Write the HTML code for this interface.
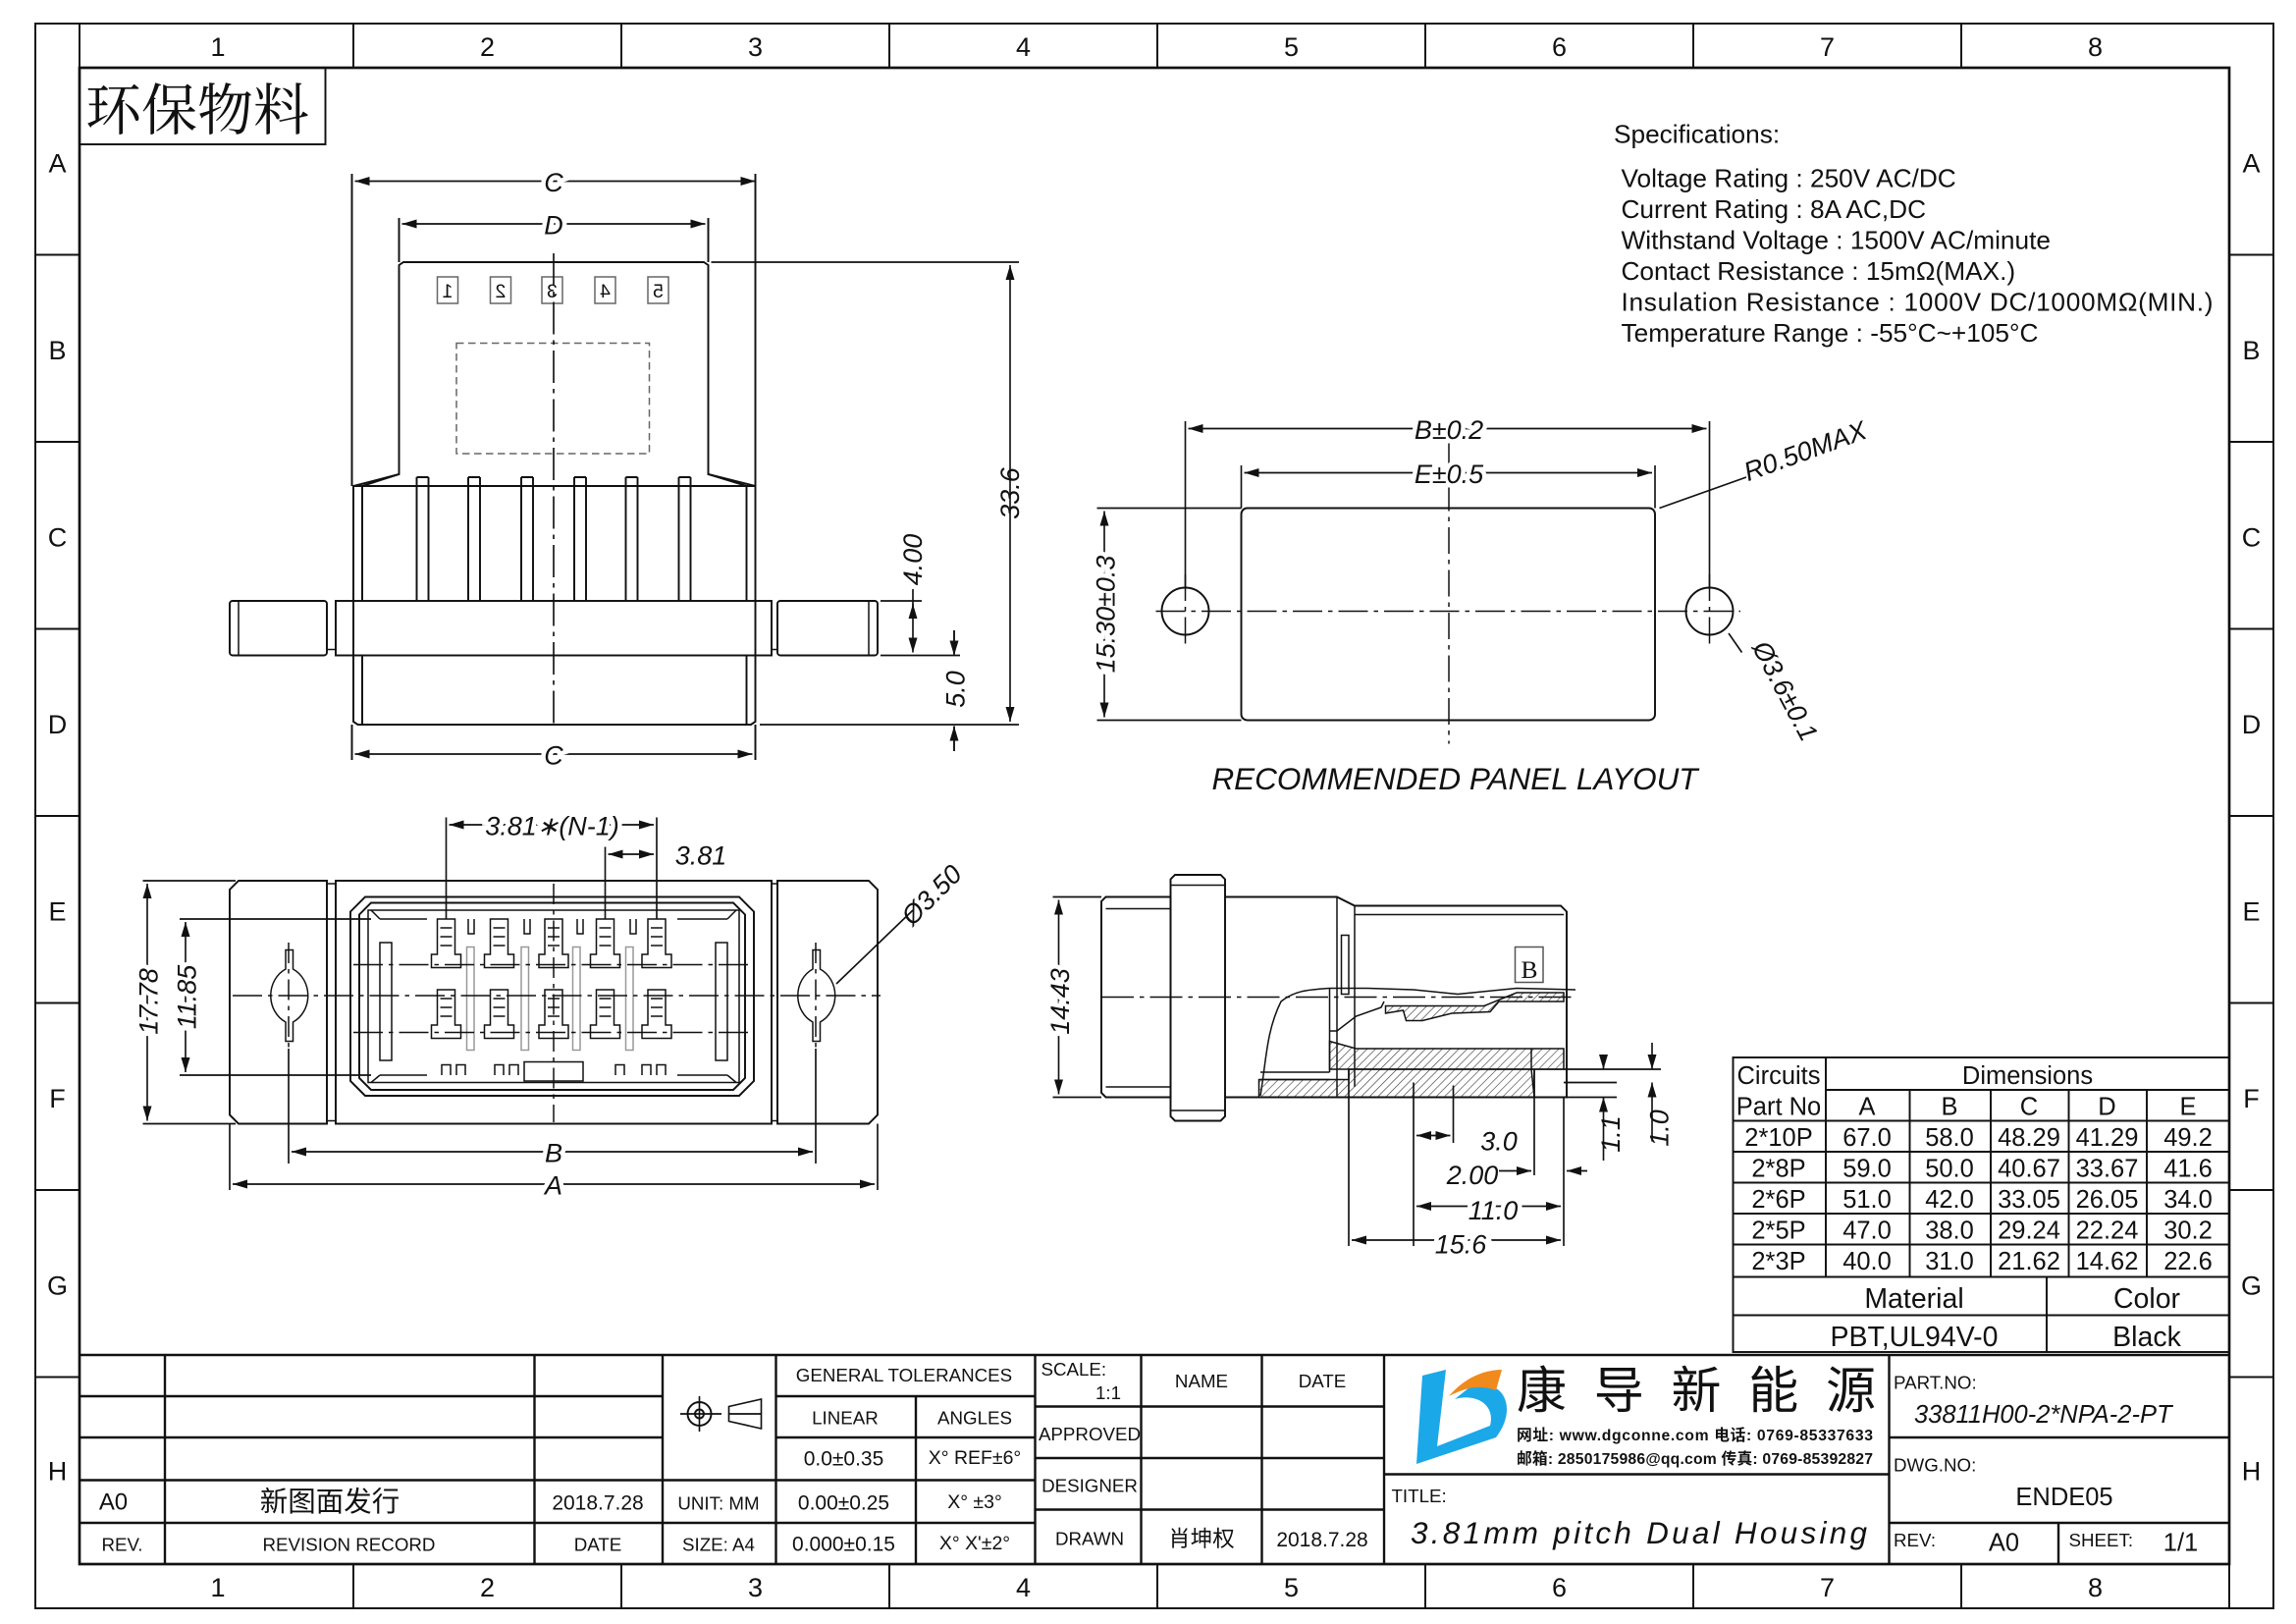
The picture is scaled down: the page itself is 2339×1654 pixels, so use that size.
<!DOCTYPE html>
<html><head><meta charset="utf-8"><style>
html,body{margin:0;padding:0;background:#fff}
svg{display:block}
text{font-family:"Liberation Sans","Noto Sans CJK SC",sans-serif;fill:#111}
.s{font-family:"Liberation Serif","Noto Serif CJK SC",serif}
.d{font-style:italic;font-size:18px}
</style></head><body>
<svg width="2339" height="1654" viewBox="0 0 1559.33 1102.67" preserveAspectRatio="none" xmlns="http://www.w3.org/2000/svg">
<defs>
<marker id="a" viewBox="0 0 10 6" refX="10" refY="3" markerWidth="10" markerHeight="6" markerUnits="userSpaceOnUse" orient="auto-start-reverse"><path d="M0,0L10,3L0,6z" fill="#111"/></marker>
<pattern id="h" width="4" height="4" patternUnits="userSpaceOnUse" patternTransform="rotate(45)"><line x1="0" y1="0" x2="0" y2="4" stroke="#333" stroke-width="0.8"/></pattern>
</defs>
<g fill="none" stroke="#111" stroke-width="1.3">
<rect x="24" y="16" width="1520" height="1076"/>
<rect x="54" y="46" width="1460" height="1016" stroke-width="1.8"/>
<line x1="54" y1="16" x2="54" y2="46"/>
<line x1="1514" y1="1062" x2="1514" y2="1092"/>
<path d="M240 16V46M422 16V46M604 16V46M786 16V46M968 16V46M1150 16V46M1332 16V46"/>
<path d="M240 1062V1092M422 1062V1092M604 1062V1092M786 1062V1092M968 1062V1092M1150 1062V1092M1332 1062V1092"/>
<path d="M24 173H54M24 300H54M24 427H54M24 554H54M24 681H54M24 808H54M24 935H54"/>
<path d="M1514 173H1544M1514 300H1544M1514 427H1544M1514 554H1544M1514 681H1544M1514 808H1544M1514 935H1544"/>
<rect x="54" y="46" width="167" height="52"/>

<path d="M271 180L274 178H478L481 180V322L513 330V490L510 492H243L240 490V330L271 322Z"/>
<path d="M271 322L246 330V408M481 322L507 330V408M246 445V492M507 445V492M240 330H513"/>
<path d="M283 324V408M291 324V408M318 324V408M326 324V408M354 324V408M362 324V408M390 324V408M398 324V408M425 324V408M433 324V408M461 324V408M469 324V408M283 324H291M318 324H326M354 324H362M390 324H398M425 324H433M461 324H469"/>
<rect x="228" y="408" width="296" height="37"/>
<rect x="156" y="408" width="66" height="37" rx="2"/>
<rect x="528" y="408" width="68" height="37" rx="2"/>
<path d="M162 408V445M590 408V445M222 412V441H228M524 412V441H528" stroke-width="1"/>
<g stroke="#666" stroke-width="1"><rect x="297" y="188" width="14" height="18"/><rect x="333" y="188" width="14" height="18"/><rect x="368" y="188" width="14" height="18"/><rect x="404" y="188" width="14" height="18"/><rect x="440" y="188" width="14" height="18"/>
<rect x="310" y="233" width="131" height="75" stroke-dasharray="5 3"/></g>
<line x1="376" y1="172" x2="376" y2="495" stroke-dasharray="22 4 3 4" stroke-width="1.1"/>
<path d="M239 118V330M513 118V330M271 148V178M481 148V178M239 492V516M513 492V516"/>
<path d="M241 123H513" marker-start="url(#a)" marker-end="url(#a)" stroke-width="1.1"/>
<path d="M273 152H479" marker-start="url(#a)" marker-end="url(#a)" stroke-width="1.1"/>
<path d="M241 512H511" marker-start="url(#a)" marker-end="url(#a)" stroke-width="1.1"/>
<path d="M483 178H692M516 492H692M598 408H626M598 445H652" stroke-width="1.1"/>
<path d="M686 180V490" marker-start="url(#a)" marker-end="url(#a)" stroke-width="1.1"/>
<path d="M620 410V443" marker-start="url(#a)" marker-end="url(#a)" stroke-width="1.1"/>
<path d="M620 400V420" stroke-width="1.1"/>
<path d="M648 428V444M648 493V510" stroke-width="1.1"/>
<path d="M648 428V445" marker-end="url(#a)" stroke-width="1.1"/>
<path d="M648 510V493" marker-end="url(#a)" stroke-width="1.1"/>

<rect x="843" y="345" width="281" height="144" rx="4"/>
<circle cx="805" cy="415" r="16"/><circle cx="1161" cy="415" r="16"/>
<path d="M785 415H1182" stroke-dasharray="20 4 3 4" stroke-width="1"/>
<path d="M984 300V505M805 390V440M1161 390V440" stroke-dasharray="18 4 3 4" stroke-width="1"/>
<path d="M805 286V399M1161 286V399M843 316V345M1124 316V345M745 345H843M745 489H843" stroke-width="1.1"/>
<path d="M807 291H1159" marker-start="url(#a)" marker-end="url(#a)" stroke-width="1.1"/>
<path d="M845 321H1122" marker-start="url(#a)" marker-end="url(#a)" stroke-width="1.1"/>
<path d="M750 347V487" marker-start="url(#a)" marker-end="url(#a)" stroke-width="1.1"/>
<path d="M1127 345L1186 324M1174 430L1183 443" stroke-width="1.1"/>

<path d="M162 598H222V763H162L156 757V604Z"/>
<path d="M528 598H590L596 604V757L590 763H528Z"/>
<rect x="228" y="598" width="296" height="165"/>
<path d="M222 600H228M222 761H228M524 600H528M524 761H528" stroke-width="1"/>
<path d="M248 609H502L512 619V734L502 744H248L238 734V619Z"/>
<path d="M252 613H498L506 621V732L498 740H252L244 732V621Z"/>
<rect x="250" y="618" width="252" height="117" stroke-width="1"/>
<path d="M258 624H290M460 624H494M258 730H290M460 730H494M252 618L258 624M500 618L494 624M252 735L258 730M500 735L494 730" stroke-width="1"/>
<path d="M258 640V720H266V640ZM486 640V720H494V640Z" stroke-width="1"/>
<g stroke-width="1">
<path d="M297 624H309V648H313V657H293V648H297ZM333 624H345V648H349V657H329V648H333ZM370 624H382V648H386V657H366V648H370ZM405 624H417V648H421V657H401V648H405ZM440 624H452V648H456V657H436V648H440Z"/>
<path d="M297 672H309V696H313V705H293V696H297ZM333 672H345V696H349V705H329V696H333ZM370 672H382V696H386V705H366V696H370ZM405 672H417V696H421V705H401V696H405ZM440 672H452V696H456V705H436V696H440Z"/>
<path d="M299 630H307M299 636H307M299 642H307M335 630H343M335 636H343M335 642H343M372 630H380M372 636H380M372 642H380M407 630H415M407 636H415M407 642H415M442 630H450M442 636H450M442 642H450M299 678H307M299 684H307M299 690H307M335 678H343M335 684H343M335 690H343M372 678H380M372 684H380M372 690H380M407 678H415M407 684H415M407 690H415M442 678H450M442 684H450M442 690H450"/>
<g stroke="#999"><rect x="317" y="643" width="5" height="70"/><rect x="354" y="643" width="5" height="70"/><rect x="389" y="643" width="5" height="70"/><rect x="425" y="643" width="5" height="70"/></g>
<path d="M318 624V634H322V624M356 624V634H360V624M392 624V634H396V624M428 624V634H432V624"/>
<path d="M300 730V723H306V730M310 730V723H316V730M336 730V723H342V730M346 730V723H352V730M418 730V723H424V730M436 730V723H442V730M446 730V723H452V730M356 730V721H396V734H356Z"/>
<path d="M194 645L199 645L199 658A18 20 0 0 1 199 694L199 707L194 707L194 694A18 20 0 0 1 194 658Z"/>
<path d="M552 645L557 645L557 658A18 20 0 0 1 557 694L557 707L552 707L552 694A18 20 0 0 1 552 658Z"/>
</g>
<path d="M158 676H598M240 655H512M240 701H512" stroke-dasharray="20 4 3 4" stroke-width="1"/>
<path d="M196 640V712M554 640V712M376 600V762" stroke-dasharray="14 4 3 4" stroke-width="1"/>
<path d="M97 598H160M97 763H160M122 624H252M122 730H252M196 712V790M554 712V790M156 763V808M596 763V808M303 555V624M446 555V624M411 575V624" stroke-width="1.1"/>
<path d="M100 600V761" marker-start="url(#a)" marker-end="url(#a)" stroke-width="1.1"/>
<path d="M126 626V728" marker-start="url(#a)" marker-end="url(#a)" stroke-width="1.1"/>
<path d="M198 782H552" marker-start="url(#a)" marker-end="url(#a)" stroke-width="1.1"/>
<path d="M158 804H594" marker-start="url(#a)" marker-end="url(#a)" stroke-width="1.1"/>
<path d="M305 560H444" marker-start="url(#a)" marker-end="url(#a)" stroke-width="1.1"/>
<path d="M413 580H444" marker-start="url(#a)" marker-end="url(#a)" stroke-width="1.1"/>
<path d="M568 668L620 618" stroke-width="1.1"/>

<path d="M751 609H795V745H751L748 742V612Z"/>
<path d="M751 617H795M751 738H795" stroke-width="1"/>
<path d="M798 594H829L832 597V758L829 761H798L795 758V597Z"/>
<path d="M795 601H832M795 754H832" stroke-width="1"/>
<path d="M832 609H908L920 615H1060L1064 619V745H832"/>
<path d="M908 609V745M920 615V738M920 621H1062" stroke-width="1"/>
<rect x="911" y="635" width="5" height="40" stroke-width="1"/>
<rect x="1029" y="643" width="19" height="24" stroke="#555" stroke-width="1"/>
<path d="M748 677H1071" stroke-dasharray="22 4 3 4" stroke-width="1"/>
<path d="M856 744C860 720 860 700 870 680C880 672 890 672 903 671H928L960 672L990 675L1030 671L1070 672" stroke-width="1"/>
<g stroke-width="1">
<path d="M941 683H1008L1030 674H1062V680H1018L1012 687L986 688L966 693L955 693L953 686L941 688Z" fill="url(#h)"/>
<path d="M903 707L921 712H1062V722L1062 726H903Z" fill="url(#h)"/>
<path d="M855 733H916V726H1040L1042 745H855Z" fill="url(#h)"/>
<path d="M903 671V728M903 700H908L921 690L938 684L940 680M856 728H903M856 733H903M1040 712V726H1062M1042 726V745"/>
</g>
<path d="M715 609H748M715 745H748M916 726V846M960 735V846M987 737V776M1042 726V798M1062 745V846M1062 726H1128M1062 735H1098M1062 745H1098" stroke-width="1.1"/>
<path d="M719 611V743" marker-start="url(#a)" marker-end="url(#a)" stroke-width="1.1"/>
<path d="M962 771H985" marker-start="url(#a)" marker-end="url(#a)" stroke-width="1.1"/>
<path d="M1018 795H1040" marker-end="url(#a)" stroke-width="1.1"/>
<path d="M1078 795H1064" marker-end="url(#a)" stroke-width="1.1"/>
<path d="M962 819H1060" marker-start="url(#a)" marker-end="url(#a)" stroke-width="1.1"/>
<path d="M918 842H1060" marker-start="url(#a)" marker-end="url(#a)" stroke-width="1.1"/>
<path d="M1089 716V726" marker-end="url(#a)" stroke-width="1.1"/>
<path d="M1089 788V745" marker-end="url(#a)" stroke-width="1.1"/>
<path d="M1122 708V726" marker-end="url(#a)" stroke-width="1.1"/>
<path d="M1122 775V735" marker-end="url(#a)" stroke-width="1.1"/>

<rect x="1177" y="718" width="337" height="200"/>
<path d="M1240 718V867M1240 740H1514M1177 761H1514M1177 782H1514M1177 803H1514M1177 824H1514M1177 845H1514M1177 867H1514M1177 893H1514M1297 740V867M1352 740V867M1405 740V867M1458 740V867M1390 867V918"/>

<path d="M54 920H1514M54 948H450M54 976H450M54 1005H450M54 1034H450M112 920V1062M363 920V1062M450 920V1062M527 920V1062M703 920V1062M775 920V1062M857 920V1062M940 920V1062M1283 920V1062" stroke-width="1.6"/>
<path d="M450 1005H703M450 1034H703M527 948H703M527 976H703M622 948V1062M703 955H940M703 990H940M703 1025H940M940 1001H1283M1283 976H1514M1283 1034H1514M1398 1034V1062" stroke-width="1.6"/>
<circle cx="475" cy="960" r="8"/><circle cx="475" cy="960" r="3"/><path d="M462 960H490M475 948V972M495 955L517 950V970L495 965ZM495 960H517" stroke-width="1.1"/>
</g>

<g font-size="13" text-anchor="middle">
<text transform="translate(304 202) scale(-1 1)" fill="#555">1</text>
<text transform="translate(340 202) scale(-1 1)" fill="#555">2</text>
<text transform="translate(375 202) scale(-1 1)" fill="#555">3</text>
<text transform="translate(411 202) scale(-1 1)" fill="#555">4</text>
<text transform="translate(447 202) scale(-1 1)" fill="#555">5</text>
</g>

<g text-anchor="middle" font-size="18">
<text x="148" y="38">1</text><text x="331" y="38">2</text><text x="513" y="38">3</text><text x="695" y="38">4</text><text x="877" y="38">5</text><text x="1059" y="38">6</text><text x="1241" y="38">7</text><text x="1423" y="38">8</text>
<text x="148" y="1084">1</text><text x="331" y="1084">2</text><text x="513" y="1084">3</text><text x="695" y="1084">4</text><text x="877" y="1084">5</text><text x="1059" y="1084">6</text><text x="1241" y="1084">7</text><text x="1423" y="1084">8</text>
<text x="39" y="117">A</text><text x="39" y="244">B</text><text x="39" y="371">C</text><text x="39" y="498">D</text><text x="39" y="625">E</text><text x="39" y="752">F</text><text x="39" y="879">G</text><text x="39" y="1005">H</text>
<text x="1529" y="117">A</text><text x="1529" y="244">B</text><text x="1529" y="371">C</text><text x="1529" y="498">D</text><text x="1529" y="625">E</text><text x="1529" y="752">F</text><text x="1529" y="879">G</text><text x="1529" y="1005">H</text>
</g>
<text x="58" y="88" font-size="38" class="s" style="font-family:'Noto Serif CJK SC','Noto Sans CJK SC',serif">环保物料</text>

<g font-size="17.5">
<text x="1096" y="97">Specifications:</text>
<text x="1101" y="127">Voltage Rating : 250V AC/DC</text>
<text x="1101" y="148">Current Rating : 8A AC,DC</text>
<text x="1101" y="169">Withstand Voltage : 1500V AC/minute</text>
<text x="1101" y="190">Contact Resistance : 15mΩ(MAX.)</text>
<text x="1101" y="211" textLength="402">Insulation Resistance : 1000V DC/1000MΩ(MIN.)</text>
<text x="1101" y="232">Temperature Range : -55°C~+105°C</text>
</g>

<g class="d" text-anchor="middle">
<text x="376" y="130" style="paint-order:stroke" stroke="#fff" stroke-width="6">C</text>
<text x="376" y="159" style="paint-order:stroke" stroke="#fff" stroke-width="6">D</text>
<text x="376" y="519" style="paint-order:stroke" stroke="#fff" stroke-width="6">C</text>
<text transform="translate(692 335) rotate(-90)">33.6</text>
<text transform="translate(626 380) rotate(-90)">4.00</text>
<text transform="translate(655 468) rotate(-90)">5.0</text>
<text x="984" y="298" style="paint-order:stroke" stroke="#fff" stroke-width="6">B±0.2</text>
<text x="984" y="328" style="paint-order:stroke" stroke="#fff" stroke-width="6">E±0.5</text>
<text transform="translate(757 417) rotate(-90)" style="paint-order:stroke" stroke="#fff" stroke-width="6">15.30±0.3</text>
<text transform="translate(1228 312) rotate(-20)">R0.50MAX</text>
<text transform="translate(1207 472) rotate(62)">Ø3.6±0.1</text>
<text x="988" y="536" font-size="21">RECOMMENDED PANEL LAYOUT</text>
<text x="375" y="567" style="paint-order:stroke" stroke="#fff" stroke-width="6">3.81∗(N-1)</text>
<text x="476" y="587">3.81</text>
<text transform="translate(637 612) rotate(-45)">Ø3.50</text>
<text transform="translate(107 680) rotate(-90)" style="paint-order:stroke" stroke="#fff" stroke-width="6">17.78</text>
<text transform="translate(133 677) rotate(-90)" style="paint-order:stroke" stroke="#fff" stroke-width="6">11.85</text>
<text x="376" y="789" style="paint-order:stroke" stroke="#fff" stroke-width="6">B</text>
<text x="376" y="811" style="paint-order:stroke" stroke="#fff" stroke-width="6">A</text>
<text transform="translate(726 680) rotate(-90)" style="paint-order:stroke" stroke="#fff" stroke-width="6">14.43</text>
<text x="1018" y="781">3.0</text>
<text x="1000" y="804">2.00</text>
<text x="1014" y="828" style="paint-order:stroke" stroke="#fff" stroke-width="6">11.0</text>
<text x="992" y="851" style="paint-order:stroke" stroke="#fff" stroke-width="6">15.6</text>
<text transform="translate(1100 770) rotate(-90)">1.1</text>
<text transform="translate(1133 766) rotate(-90)">1.0</text>
</g>
<text x="1033" y="664" font-size="17" fill="#555" class="s">B</text>

<g text-anchor="middle" font-size="17">
<text x="1208" y="736">Circuits</text><text x="1208" y="757">Part No</text>
<text x="1377" y="736">Dimensions</text>
<text x="1268" y="757">A</text><text x="1324" y="757">B</text><text x="1378" y="757">C</text><text x="1431" y="757">D</text><text x="1486" y="757">E</text>
<text x="1208" y="778">2*10P</text><text x="1268" y="778">67.0</text><text x="1324" y="778">58.0</text><text x="1378" y="778">48.29</text><text x="1431" y="778">41.29</text><text x="1486" y="778">49.2</text>
<text x="1208" y="799">2*8P</text><text x="1268" y="799">59.0</text><text x="1324" y="799">50.0</text><text x="1378" y="799">40.67</text><text x="1431" y="799">33.67</text><text x="1486" y="799">41.6</text>
<text x="1208" y="820">2*6P</text><text x="1268" y="820">51.0</text><text x="1324" y="820">42.0</text><text x="1378" y="820">33.05</text><text x="1431" y="820">26.05</text><text x="1486" y="820">34.0</text>
<text x="1208" y="841">2*5P</text><text x="1268" y="841">47.0</text><text x="1324" y="841">38.0</text><text x="1378" y="841">29.24</text><text x="1431" y="841">22.24</text><text x="1486" y="841">30.2</text>
<text x="1208" y="862">2*3P</text><text x="1268" y="862">40.0</text><text x="1324" y="862">31.0</text><text x="1378" y="862">21.62</text><text x="1431" y="862">14.62</text><text x="1486" y="862">22.6</text>
<text x="1300" y="888" font-size="19">Material</text><text x="1458" y="888" font-size="19">Color</text>
<text x="1300" y="914" font-size="19">PBT,UL94V-0</text><text x="1458" y="914" font-size="19">Black</text>
</g>

<g class="s" font-size="12.5" text-anchor="middle">
<text x="614" y="938">GENERAL TOLERANCES</text>
<text x="574" y="967">LINEAR</text><text x="662" y="967">ANGLES</text>
<text x="573" y="995" font-size="14">0.0±0.35</text><text x="662" y="994" font-size="13">X° REF±6°</text>
<text x="573" y="1025" font-size="14">0.00±0.25</text><text x="662" y="1024" font-size="13">X° ±3°</text>
<text x="573" y="1053" font-size="14">0.000±0.15</text><text x="662" y="1052" font-size="13">X° X'±2°</text>
<text x="816" y="942">NAME</text><text x="898" y="942">DATE</text>
<text x="740" y="978">APPROVED</text><text x="740" y="1013">DESIGNER</text><text x="740" y="1049">DRAWN</text>
<text x="816" y="1050" font-size="15">肖坤权</text><text x="898" y="1050" font-size="14">2018.7.28</text>
<text x="77" y="1025" font-size="16">A0</text><text x="224" y="1026" font-size="19">新图面发行</text><text x="406" y="1025" font-size="14">2018.7.28</text>
<text x="83" y="1053">REV.</text><text x="237" y="1053">REVISION RECORD</text><text x="406" y="1053">DATE</text>
<text x="488" y="1025">UNIT: MM</text><text x="488" y="1053">SIZE: A4</text>
<text x="1402" y="1022" font-size="17">ENDE05</text>
<text x="1361" y="1053" font-size="17">A0</text><text x="1481" y="1053" font-size="17">1/1</text>
</g>
<g class="s" font-size="12.5">
<text x="707" y="934">SCALE:</text><text x="744" y="950">1:1</text>
<text x="1286" y="943">PART.NO:</text><text x="1286" y="999">DWG.NO:</text>
<text x="1286" y="1050">REV:</text><text x="1405" y="1050">SHEET:</text>
<text x="945" y="1020">TITLE:</text>
<text x="1300" y="966" font-size="17" font-style="italic">33811H00-2*NPA-2-PT</text>
<text x="958" y="1048" font-size="21" font-style="italic" textLength="310">3.81mm pitch Dual Housing</text>
</g>

<path d="M966 934L982 930L976 982L1012 968C1016 952 1000 946 988 950L998 942C1020 934 1032 955 1016 976L962 994Z" fill="#1aa8e8"/>
<path d="M984 948C996 934 1010 930 1020 930L1016 944C1004 940 996 942 984 948Z" fill="#f08a1c"/>
<text x="1030" y="956" font-size="34" style="font-family:'Noto Sans CJK SC',sans-serif" textLength="244">康导新能源</text>
<text x="1030" y="978" font-size="10.5" font-weight="bold" textLength="242">网址: www.dgconne.com  电话: 0769-85337633</text>
<text x="1030" y="994" font-size="10.5" font-weight="bold" textLength="242">邮箱: 2850175986@qq.com 传真: 0769-85392827</text>
</svg>
</body></html>
